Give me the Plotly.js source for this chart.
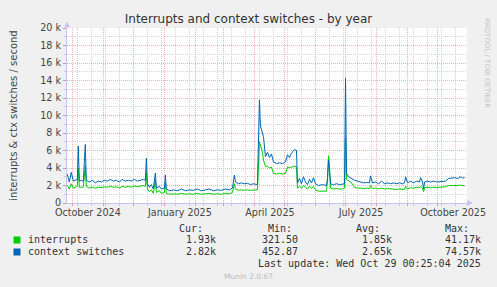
<!DOCTYPE html>
<html><head><meta charset="utf-8">
<script src="https://cdn.plot.ly/plotly-3.0.1.min.js"></script>
<style>html,body{margin:0;padding:0;background:#f0f0f0;}#chart{width:497px;height:287px;}</style>
</head><body><div id="chart"></div>
<script>
const dates = [
"2024-09-26","2024-09-28","2024-09-30",
"2024-10-02","2024-10-04","2024-10-06","2024-10-07","2024-10-08","2024-10-10","2024-10-12","2024-10-14","2024-10-15","2024-10-18","2024-10-21","2024-10-24","2024-10-27","2024-10-30",
"2024-11-02","2024-11-05","2024-11-08","2024-11-11","2024-11-14","2024-11-17","2024-11-20","2024-11-23","2024-11-26","2024-11-29",
"2024-12-02","2024-12-05","2024-12-08","2024-12-11","2024-12-13","2024-12-14","2024-12-15","2024-12-17","2024-12-19","2024-12-21","2024-12-23","2024-12-24","2024-12-27","2024-12-29",
"2025-01-01","2025-01-02","2025-01-03","2025-01-06","2025-01-10","2025-01-14","2025-01-18","2025-01-22","2025-01-26","2025-01-30",
"2025-02-03","2025-02-07","2025-02-11","2025-02-15","2025-02-19","2025-02-23","2025-02-27",
"2025-03-03","2025-03-07","2025-03-10","2025-03-12","2025-03-13","2025-03-16","2025-03-19","2025-03-22","2025-03-25","2025-03-28","2025-03-31",
"2025-04-04","2025-04-06","2025-04-07","2025-04-09","2025-04-10","2025-04-12","2025-04-14","2025-04-16","2025-04-18","2025-04-20","2025-04-23","2025-04-26","2025-04-29",
"2025-05-02","2025-05-04","2025-05-06","2025-05-08","2025-05-11","2025-05-13","2025-05-14","2025-05-16","2025-05-18","2025-05-20","2025-05-22","2025-05-24","2025-05-26","2025-05-28","2025-05-30",
"2025-06-01","2025-06-04","2025-06-07","2025-06-10","2025-06-12","2025-06-13","2025-06-14","2025-06-15","2025-06-16","2025-06-19","2025-06-22","2025-06-25","2025-06-28","2025-06-30",
"2025-07-01","2025-07-02","2025-07-04","2025-07-07","2025-07-10","2025-07-13","2025-07-16","2025-07-19","2025-07-22","2025-07-25","2025-07-26","2025-07-28","2025-07-31",
"2025-08-03","2025-08-06","2025-08-09","2025-08-12","2025-08-15","2025-08-18","2025-08-21","2025-08-24","2025-08-27","2025-08-29","2025-08-30",
"2025-09-01","2025-09-04","2025-09-07","2025-09-10","2025-09-13","2025-09-14","2025-09-16","2025-09-17","2025-09-18","2025-09-21","2025-09-24","2025-09-27","2025-09-30",
"2025-10-03","2025-10-06","2025-10-09","2025-10-12","2025-10-15","2025-10-18","2025-10-21","2025-10-24","2025-10-26","2025-10-28"
];
const ctxSwitches = [
3300,2400,3500,
2500,2600,2700,6500,2500,2600,2500,6700,2600,2400,2600,2300,2500,2400,
2600,2500,2700,2500,2600,2400,2700,2500,2600,2500,
2700,2500,2600,2700,2600,5100,2200,1800,2100,1600,3400,1700,1900,1600,
1700,3200,1600,1400,1500,1400,1600,1400,1500,1450,
1600,1400,1500,1600,1400,1500,1450,
1600,1500,1700,3200,2400,2200,2300,2200,2250,2100,2200,
2100,11800,8800,7800,7600,5300,5800,5200,5600,4700,4500,4600,4500,
4700,5500,5200,5700,6100,6000,2300,2800,2200,3000,2400,2100,2700,2300,2900,
2200,2000,2100,2050,2000,2600,4900,3600,2200,2100,2200,2100,2150,2200,
14300,3400,3000,2800,2600,2500,2400,2300,2350,2300,3100,2300,2400,
2200,2500,2200,2300,2200,2300,2200,2300,2200,2300,3000,
2300,2500,2300,2500,2400,2900,2400,1600,2400,2500,2400,2500,2400,
2450,2500,2500,2800,2850,2900,2800,3000,2850,2900
];
const interrupts = [
2000,1600,2200,
1700,1800,1900,4000,1800,1800,1800,4300,1900,1700,1800,1700,1800,1750,
1850,1800,1900,1800,1850,1700,1900,1800,1900,1800,
1950,1850,1900,2000,1900,3500,1600,1300,1500,1100,2600,1200,1400,1100,
1200,2300,1100,1000,1050,1000,1100,1000,1050,1000,
1100,1000,1050,1100,1000,1050,1000,
1100,1050,1200,2200,1600,1450,1500,1450,1500,1450,1500,
1500,7000,6500,5800,4900,4200,4200,4000,4100,3400,3300,3400,3300,
3400,4100,4000,4100,4200,4100,1700,1900,1700,2000,1800,1600,1900,1700,1900,
1500,1350,1350,1300,1350,3000,5400,4300,1700,1600,1650,1600,1600,1700,
7400,2700,2500,2300,1800,1700,1700,1650,1700,1650,2000,1650,1700,
1600,1700,1600,1650,1600,1600,1550,1600,1550,1550,1900,
1600,1750,1700,1800,1750,1900,1700,1300,1750,1800,1750,1800,1750,
1800,1800,1850,2000,2000,1950,2000,2050,2000,1950
];
const seriesNames = ["interrupts","context switches"];
const seriesColors = ["#00cc00","#0066b3"];
const yTickVals = [0,2000,4000,6000,8000,10000,12000,14000,16000,18000,20000];
const yTickText = ["0","2 k","4 k","6 k","8 k","10 k","12 k","14 k","16 k","18 k","20 k"];
const xLabelVals = ["2024-10-16 12:00","2025-01-16 12:00","2025-04-16 12:00","2025-07-16 12:00","2025-10-16 12:00"];
const xLabelText = ["October 2024","January 2025","April 2025","July 2025","October 2025"];
const statHeaders = ["Cur:","Min:","Avg:","Max:"];
const statInterrupts = ["1.93k","321.50","1.85k","41.17k"];
const statCtx = ["2.82k","452.87","2.65k","74.57k"];
const xRange = ["2024-09-25 17:00","2025-10-30 09:00"];

const L=67, T=28, W=400, H=175;
const px = x => (x-L)/W;
const py = y => (T+H-y)/H;
const mono = {family:"DejaVu Sans Mono", size:10, color:"#333"};
const majGrid = "#f2b0b0", minGrid = "#d2d2d2", axisCol = "#c4c4f0";

const traces = [
  {x:dates, y:interrupts, name:seriesNames[0], type:"scatter", mode:"lines",
   line:{color:seriesColors[0], width:1}, xaxis:"x", yaxis:"y"},
  {x:dates, y:ctxSwitches, name:seriesNames[1], type:"scatter", mode:"lines",
   line:{color:seriesColors[1], width:1}, xaxis:"x2", yaxis:"y"}
];

const ann = [];
const headX = [204,293,381,470], valX = [216.7,299.3,393.3,482.3];
statHeaders.forEach((t,i)=>ann.push({text:t,x:px(headX[i]),y:py(228),xanchor:"right",yanchor:"middle",font:mono}));
statInterrupts.forEach((t,i)=>ann.push({text:t,x:px(valX[i]),y:py(239.5),xanchor:"right",yanchor:"middle",font:mono}));
statCtx.forEach((t,i)=>ann.push({text:t,x:px(valX[i]),y:py(251.7),xanchor:"right",yanchor:"middle",font:mono}));
ann.push({text:seriesNames[0],x:px(26.7),y:py(239.5),xanchor:"left",yanchor:"middle",font:mono});
ann.push({text:seriesNames[1],x:px(26.7),y:py(251.7),xanchor:"left",yanchor:"middle",font:mono});
ann.push({text:" ",x:px(17),y:py(239.7),width:6,height:6,bgcolor:seriesColors[0],font:{size:1},xanchor:"center",yanchor:"middle",borderpad:0});
ann.push({text:" ",x:px(17),y:py(252),width:6,height:6,bgcolor:seriesColors[1],font:{size:1},xanchor:"center",yanchor:"middle",borderpad:0});
ann.push({text:"Last update: Wed Oct 29 00:25:04 2025",x:px(482.3),y:py(263.5),xanchor:"right",yanchor:"middle",font:mono});
ann.push({text:"Munin 2.0.67",x:px(248.5),y:py(276),xanchor:"center",yanchor:"middle",font:{family:"DejaVu Sans",size:7.5,color:"#bbbbbb"}});
ann.push({text:"RRDTOOL / TOBI OETIKER",x:px(487.5),y:py(62.5),textangle:90,xanchor:"center",yanchor:"middle",font:{family:"DejaVu Sans",size:7,color:"#c4c4c4"}});
ann.forEach(a=>{a.xref="paper";a.yref="paper";a.showarrow=false; if(a.borderpad===undefined)a.borderpad=0;});

const tri = pts => "M" + pts.map(p=>px(p[0])+","+py(p[1])).join(" L") + " Z";
const shapes = [
  {type:"path", xref:"paper", yref:"paper", path:tri([[64,27.5],[70,27.5],[67,21.5]]), fillcolor:axisCol, line:{width:0}},
  {type:"path", xref:"paper", yref:"paper", path:tri([[467,200],[467,206],[473,203]]), fillcolor:axisCol, line:{width:0}}
];

const layout = {
  width:497, height:287,
  margin:{l:L, r:497-L-W, t:T, b:287-T-H, pad:0},
  paper_bgcolor:"#f0f0f0", plot_bgcolor:"#ffffff",
  showlegend:false,
  title:{text:"Interrupts and context switches - by year", font:{family:"DejaVu Sans", size:12, color:"#333"},
         x:0.5, xref:"container", xanchor:"center", y:1-19/287, yref:"container", yanchor:"middle"},
  xaxis:{type:"date", range:xRange, tickmode:"linear", tick0:"2024-10-01", dtick:"M1",
         showticklabels:false, showgrid:true, gridcolor:majGrid, griddash:"1px,1px", gridwidth:1,
         ticks:"outside", ticklen:2, tickcolor:"#e89090", showline:true, linecolor:axisCol, zeroline:false,
         minor:{tick0:"2024-10-06", dtick:14*86400000, showgrid:true, gridcolor:minGrid, griddash:"1px,1px",
                ticks:"outside", ticklen:2, tickcolor:"#c8c8c8"}},
  xaxis2:{type:"date", range:xRange, overlaying:"x", anchor:"y", side:"bottom",
          tickmode:"array", tickvals:xLabelVals, ticktext:xLabelText, showgrid:false, ticks:"", showline:false, zeroline:false,
          ticklabelstandoff:2,
          tickfont:{family:"DejaVu Sans", size:9.6, color:"#444"}},
  yaxis:{range:[0,20000], tickmode:"array", tickvals:yTickVals, ticktext:yTickText,
         showgrid:true, gridcolor:majGrid, griddash:"1px,1px", gridwidth:1,
         ticks:"outside", ticklen:3, tickcolor:"#e89090", showline:true, linecolor:axisCol, zeroline:false,
         tickfont:{family:"DejaVu Sans", size:9.6, color:"#444"},
         minor:{tickmode:"linear", tick0:0, dtick:1000, showgrid:true, gridcolor:minGrid, griddash:"1px,1px",
                ticks:"outside", ticklen:2, tickcolor:"#c8c8c8"},
         title:{text:"interrupts & ctx switches / second", font:{family:"DejaVu Sans", size:10, color:"#444"}, standoff:20}},
  annotations:ann,
  shapes:shapes
};
Plotly.newPlot("chart", traces, layout, {staticPlot:true, displayModeBar:false});
</script></body></html>
